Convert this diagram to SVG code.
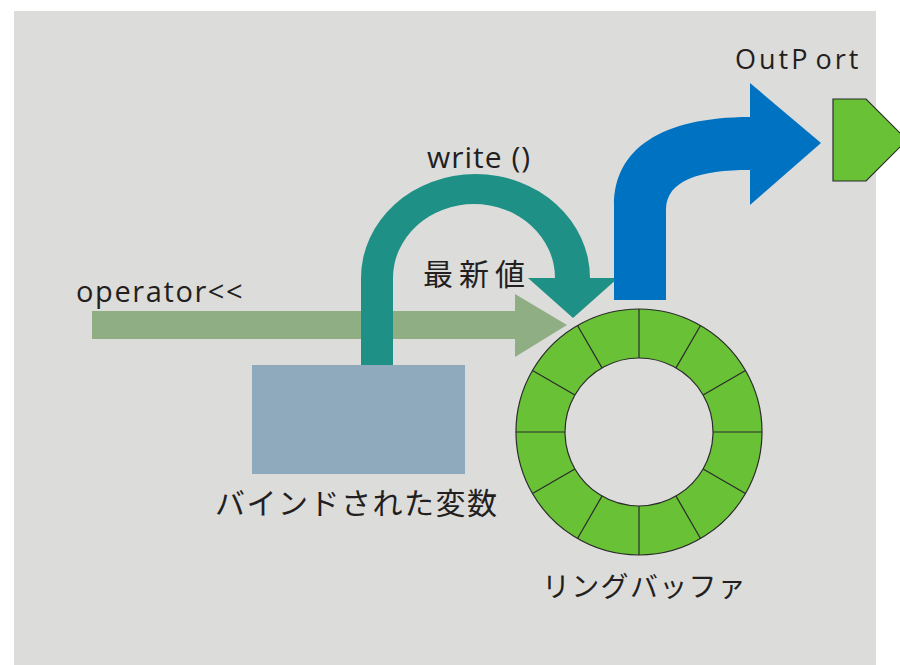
<svg xmlns="http://www.w3.org/2000/svg" width="900" height="665" viewBox="0 0 900 665">
  <style>
    .lbl { font-family: "Open Sans", "Noto Sans CJK JP", sans-serif; fill: #231f20; }
    .jp { font-family: "Noto Sans CJK JP", "Open Sans", sans-serif; fill: #231f20; }
    .seg { stroke: #2b2b2b; stroke-width: 1.2; }
  </style>
  <rect x="0" y="0" width="900" height="665" fill="#ffffff"/>
  <rect x="14" y="11" width="862" height="654" fill="#dcdcdb"/>

  <g id="connectors">
    <path id="operator-arrow" d="M92,311 L515,311 L515,294 L567,325 L515,357 L515,339 L92,339 Z" fill="#8fae84"/>
    <g id="write-arrow" fill="#1f9086">
      <rect x="361" y="277.5" width="32" height="87.5"/>
      <path d="M361,278 A114.5,104 0 0 1 590,278 L618,278 L573,318 L528,278 L555,278 A81,74 0 0 0 393,278 Z"/>
    </g>
    <path id="out-arrow" d="M614,300 L614,205 C614,150 660,117 750,117 L750,83 L821,143 L750,205 L750,170 C700,170 666,180 666,210 L666,300 Z" fill="#0072c2"/>
  </g>

  <g id="bound-variable">
    <rect x="252" y="365" width="213" height="109" fill="#8faabd"/>
    <text class="jp" x="215" y="514" font-size="30" letter-spacing="1.5">バインドされた変数</text>
  </g>

  <g id="ring-buffer">
    <path d="M639,309 A123,123 0 1 1 638.99,309 Z M639,358 A74,74 0 1 0 639.01,358 Z" fill="#69c236" fill-rule="evenodd" stroke="#2b2b2b" stroke-width="1.2"/>
    <g class="seg">
      <line x1="639" y1="309" x2="639" y2="358"/>
      <line x1="639" y1="555" x2="639" y2="506"/>
      <line x1="516" y1="432" x2="565" y2="432"/>
      <line x1="762" y1="432" x2="713" y2="432"/>
      <line x1="700.5" y1="325.5" x2="676" y2="367.9"/>
      <line x1="577.5" y1="325.5" x2="602" y2="367.9"/>
      <line x1="700.5" y1="538.5" x2="676" y2="496.1"/>
      <line x1="577.5" y1="538.5" x2="602" y2="496.1"/>
      <line x1="745.5" y1="370.5" x2="703.1" y2="395"/>
      <line x1="532.5" y1="370.5" x2="574.9" y2="395"/>
      <line x1="745.5" y1="493.5" x2="703.1" y2="469"/>
      <line x1="532.5" y1="493.5" x2="574.9" y2="469"/>
    </g>
    <text class="jp" x="542" y="597" font-size="28" letter-spacing="1.3">リングバッファ</text>
  </g>

  <g id="outport">
    <path d="M833,99 L866,99 L907,140 L866,181 L833,181 Z" fill="#69c236" stroke="#2b2b2b" stroke-width="1.2"/>
    <text class="lbl" x="735" y="69" font-size="27" letter-spacing="3">OutP<tspan dx="5">ort</tspan></text>
  </g>

  <g id="labels">
    <text class="lbl" x="427" y="168" font-size="30" letter-spacing="1">write ()</text>
    <text class="lbl" x="76" y="302" font-size="29" letter-spacing="1.6">operator&lt;&lt;</text>
    <text class="jp" x="423" y="285" font-size="30" letter-spacing="6">最新値</text>
  </g>
</svg>
